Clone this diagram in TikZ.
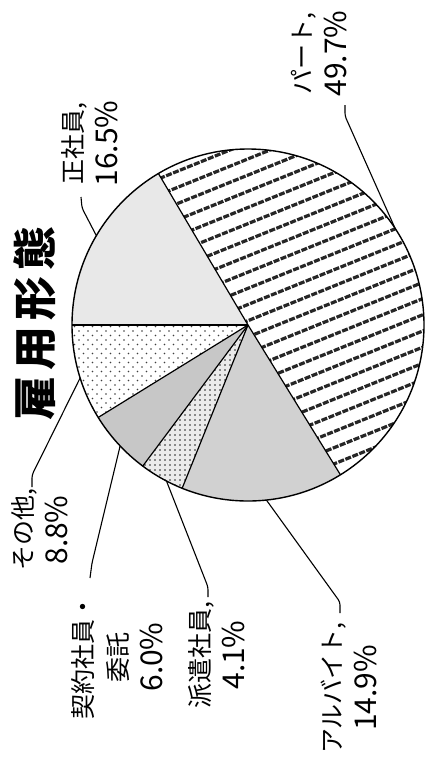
\documentclass[tikz,border=0pt]{standalone}
\usepackage{fontspec}
\setmainfont{Noto Sans CJK JP}
\usetikzlibrary{calc}
\begin{document}
\begin{tikzpicture}[x=1pt,y=1pt,
  lab/.style={rotate=90, align=center, font=\fontsize{25}{35}\selectfont, inner sep=0pt},
  leader/.style={line width=1.1pt, rounded corners=3pt},
  edge/.style={line width=1.2pt},
  hatchline/.style={line width=3.2pt, black!85, dash pattern=on 6pt off 1.5pt},
  dotc/.style={black!75}
]
\useasboundingbox (0,0) rectangle (424,-758);
\fill[white] (0,0) rectangle (424,-758);
\coordinate (C) at (248,-325);
\def\R{176}
% sector fills
\foreach \a/\b/\c in {120.6/180/black!9, 180/211.68/white, 211.68/233.28/black!22, 233.28/248.04/black!8, 248.04/301.68/black!18, 301.68/480.6/white}
  \fill[\c] (C) -- ++(\a:\R) arc[start angle=\a, end angle=\b, radius=\R] -- cycle;
% hatching (part)
\begin{scope}
\clip (C) -- ++(301.68:\R) arc[start angle=301.68, end angle=480.6, radius=\R] -- cycle;
\foreach \k in {-13,...,13}
  \draw[hatchline] ($(C)+(112:{\k*15+4})+(22:-200)$) -- ($(C)+(112:{\k*15+4})+(22:200)$);
\end{scope}
% dots (sonota)
\begin{scope}
\clip (C) -- ++(180:\R) arc[start angle=180, end angle=211.68, radius=\R] -- cycle;
\foreach \j in {0,...,22}
  \foreach \i in {0,...,20}
    \fill[dotc] ({70+9*\i+4.5*mod(\j,2)},{-322-4.5*\j}) circle (0.9);
\end{scope}
% grid dots (haken)
\begin{scope}
\clip (C) -- ++(233.28:\R) arc[start angle=233.28, end angle=248.04, radius=\R] -- cycle;
\foreach \j in {0,...,36}
  \foreach \i in {0,...,22}
    \fill[black!85] ({140+5*\i},{-325-5*\j}) circle (0.8);
\end{scope}
% sector edges
\foreach \a in {120.6,180,211.68,233.28,248.04,301.68}
  \draw[edge] (C) -- ++(\a:\R);
\draw[line width=1.4pt] (C) circle (\R);
% title
\node[rotate=90, font=\fontsize{44}{44}\selectfont\bfseries, inner sep=0pt] (title) at (35,-323.5) {雇\kern6pt用\kern6pt形\kern6pt態};
% labels
\node[lab] (part) at (319,-53.5) {パート,\\{\fontsize{30}{35}\selectfont 49.7\%}};
\node[lab] (sei) at (89.5,-143.5) {正社員,\\{\fontsize{30}{35}\selectfont 16.5\%}};
\node[lab] (sonota) at (39.5,-530) {その他,\\{\fontsize{30}{35}\selectfont 8.8\%}};
\node[lab] (keiyaku) at (117.5,-657) {契約社員・\\委託\\{\fontsize{30}{35}\selectfont 6.0\%}};
\node[lab] (haken) at (216.5,-655) {派遣社員,\\{\fontsize{30}{35}\selectfont 4.1\%}};
\node[lab] (arubaito) at (349,-688) {アルバイト,\\{\fontsize{30}{35}\selectfont 14.9\%}};
% leader points
\coordinate (pa1) at (345,-105); \coordinate (pa2) at (345,-116); \coordinate (pa3) at ($(C)+(33.3:\R)$);
\coordinate (se1) at (81,-197); \coordinate (se2) at (82,-208); \coordinate (se3) at ($(C)+(149.5:\R)$);
\coordinate (so1) at (32,-487); \coordinate (so2) at (32,-475); \coordinate (so3) at ($(C)+(197.5:\R)$);
\coordinate (ke1) at (90,-578); \coordinate (ke2) at (92,-563); \coordinate (ke3) at ($(C)+(223.4:\R)$);
\coordinate (ha1) at (208,-597); \coordinate (ha2) at (208,-587); \coordinate (ha3) at ($(C)+(242.4:\R)$);
\coordinate (ar1) at (340,-613); \coordinate (ar2) at (340,-602); \coordinate (ar3) at ($(C)+(276:\R)$);
\foreach \p in {pa,se,so,ke,ha,ar}
  \draw[leader] (\p1) -- (\p2) -- (\p3);
\end{tikzpicture}
\end{document}
